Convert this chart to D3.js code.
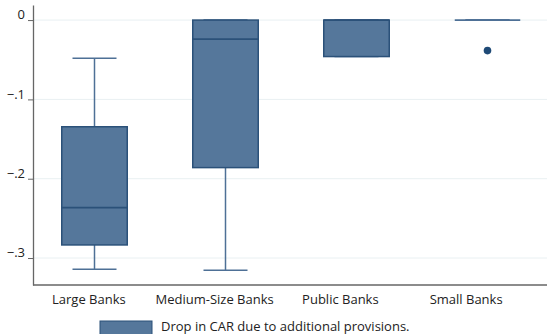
<!DOCTYPE html>
<html>
<head>
<meta charset="utf-8">
<script src="https://cdn.jsdelivr.net/npm/d3@7"></script>
<style>
  html, body { margin: 0; padding: 0; background: #fff; }
  svg { display: block; font-family: "Open Sans", sans-serif; }
</style>
</head>
<body>
<svg id="chart" width="547" height="334"></svg>
<script>
// Box-plot summaries of the drop in capital adequacy ratio by bank group
const categories = ["Large Banks", "Medium-Size Banks", "Public Banks", "Small Banks"];
const whiskerHigh = [-0.048, 0.0, 0.0, 0.0];
const q3 = [-0.1345, 0.0, 0.0, 0.0];
const median = [-0.2365, -0.024, 0.0, 0.0];
const q1 = [-0.2835, -0.186, -0.046, 0.0];
const whiskerLow = [-0.314, -0.3155, -0.046, 0.0];
const outliers = [[], [], [], [-0.0385]];
const yTicks = [0, -0.1, -0.2, -0.3];
const legendLabel = "Drop in CAR due to additional provisions.";
const titleText = "(percentage points)";

const svg = d3.select("#chart");
const fill = "#55779b", edge = "#2b5179", whisk = "#4e7096";

const y = d3.scaleLinear().domain([-0.334, 0.019]).range([285, 5]);
const xBox = d3.scaleBand().domain(categories).range([29, 553]).paddingInner(0.5).paddingOuter(0.25);
const xLab = d3.scaleBand().domain(categories).range([26, 529]);

// title (runs off the top edge)
svg.append("text").attr("x", 58).attr("y", -5).attr("fill", "#3b95d0")
  .style("font-size", "16px").text(titleText);

// gridlines
svg.append("g").selectAll("line").data(yTicks).join("line")
  .attr("x1", 34).attr("x2", 547)
  .attr("y1", d => y(d)).attr("y2", d => y(d))
  .attr("stroke", "#e9f0f2").attr("stroke-width", 1);

// y axis
const fmt = d => d === 0 ? "0" : d3.format(".1f")(d).replace("0.", ".");
const yAxis = svg.append("g").attr("transform", "translate(33,0)")
  .call(d3.axisLeft(y).tickValues(yTicks).tickFormat(fmt).tickSize(5).tickSizeOuter(0));
yAxis.select(".domain").attr("stroke", "#666").attr("stroke-width", 1.3);
yAxis.selectAll(".tick line").attr("stroke", "#666");
yAxis.selectAll(".tick text").attr("fill", "#222").style("font-size", "13px")
  .style("font-family", "Open Sans, sans-serif").attr("x", -8).attr("dy", "-0.1em");

// x axis line
svg.append("line").attr("x1", 33).attr("x2", 547).attr("y1", 285).attr("y2", 285)
  .attr("stroke", "#666").attr("stroke-width", 1.3);

// x labels
const xAxis = svg.append("g").attr("transform", "translate(0,285)")
  .call(d3.axisBottom(xLab).tickSize(0));
xAxis.select(".domain").remove();
xAxis.selectAll(".tick text").attr("fill", "#222").style("font-size", "13px")
  .style("font-family", "Open Sans, sans-serif").attr("dy", "1.0em").attr("y", 6);

const idx = d3.range(categories.length);
const g = svg.append("g");
const cx = i => xBox(categories[i]) + xBox.bandwidth() / 2;
const capW = 44;

// whiskers
g.selectAll(".wl").data(idx).join("line")
  .attr("x1", cx).attr("x2", cx)
  .attr("y1", i => y(whiskerHigh[i])).attr("y2", i => y(q3[i]))
  .attr("stroke", whisk).attr("stroke-width", 1.5);
g.selectAll(".wl2").data(idx).join("line")
  .attr("x1", cx).attr("x2", cx)
  .attr("y1", i => y(q1[i])).attr("y2", i => y(whiskerLow[i]))
  .attr("stroke", whisk).attr("stroke-width", 1.5);
// caps
[whiskerHigh, whiskerLow].forEach(arr => {
  g.append("g").selectAll("line").data(idx).join("line")
    .attr("x1", i => cx(i) - capW / 2).attr("x2", i => cx(i) + capW / 2)
    .attr("y1", i => y(arr[i])).attr("y2", i => y(arr[i]))
    .attr("stroke", whisk).attr("stroke-width", 1.5);
});

// boxes
g.selectAll("rect.box").data(idx.filter(i => q3[i] !== q1[i])).join("rect")
  .attr("class", "box")
  .attr("x", i => xBox(categories[i])).attr("width", xBox.bandwidth())
  .attr("y", i => y(q3[i])).attr("height", i => y(q1[i]) - y(q3[i]))
  .attr("fill", fill).attr("stroke", edge).attr("stroke-width", 1.5);

// collapsed box drawn as a line
g.selectAll("line.flat").data(idx.filter(i => q3[i] === q1[i])).join("line")
  .attr("class", "flat")
  .attr("x1", i => xBox(categories[i])).attr("x2", i => xBox(categories[i]) + xBox.bandwidth())
  .attr("y1", i => y(q3[i])).attr("y2", i => y(q3[i]))
  .attr("stroke", whisk).attr("stroke-width", 1.8);

// medians
g.selectAll("line.med").data(idx.filter(i => q3[i] !== q1[i])).join("line")
  .attr("class", "med")
  .attr("x1", i => xBox(categories[i])).attr("x2", i => xBox(categories[i]) + xBox.bandwidth())
  .attr("y1", i => y(median[i])).attr("y2", i => y(median[i]))
  .attr("stroke", edge).attr("stroke-width", 1.8);

// outliers
const pts = idx.flatMap(i => outliers[i].map(v => ({ i, v })));
g.selectAll("circle").data(pts).join("circle")
  .attr("cx", d => cx(d.i)).attr("cy", d => y(d.v)).attr("r", 3.8)
  .attr("fill", "#1f4a76");

// legend
svg.append("rect").attr("x", 100).attr("y", 321).attr("width", 52).attr("height", 16)
  .attr("fill", fill).attr("stroke", edge).attr("stroke-width", 1);
svg.append("text").attr("x", 161).attr("y", 331).attr("fill", "#222")
  .style("font-size", "13px").text(legendLabel);
</script>
</body>
</html>
